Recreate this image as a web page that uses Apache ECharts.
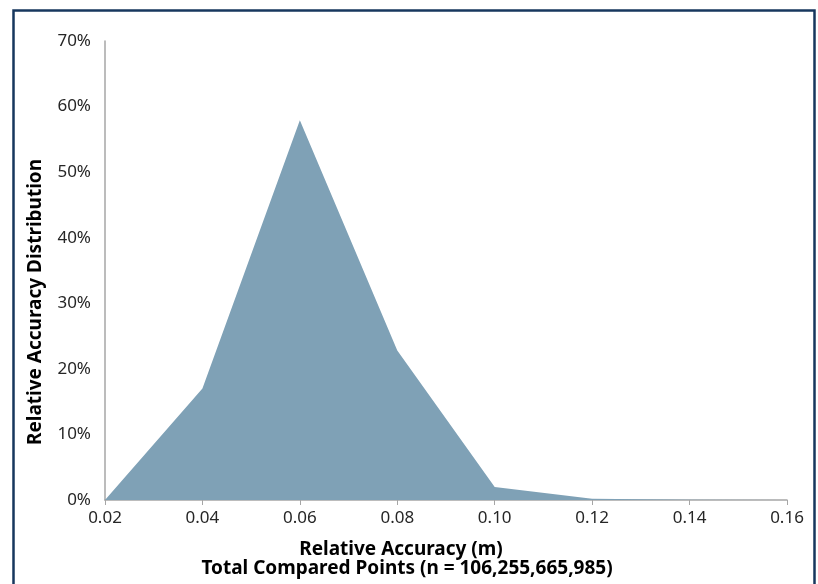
<!DOCTYPE html>
<html>
<head>
<meta charset="utf-8">
<script src="https://cdn.jsdelivr.net/npm/echarts@6/dist/echarts.min.js"></script>
<style>
html,body{margin:0;padding:0;background:#fff;}
#c{width:818px;height:584px;}
</style>
</head>
<body>
<div id="c"></div>
<script>
const categories = ['0.02','0.04','0.06','0.08','0.10','0.12','0.14','0.16'];
const distribution = [0, 17.0, 57.9, 22.8, 2.0, 0.2, 0.05, 0];
const yTicks = [0, 10, 20, 30, 40, 50, 60, 70];
const xTitle = 'Relative Accuracy (m)';
const xSubTitle = 'Total Compared Points (n = 106,255,665,985)';
const yTitle = 'Relative Accuracy Distribution';

const chart = echarts.init(document.getElementById('c'), null, {renderer:'canvas'});
const font = '"Noto Sans", sans-serif';
chart.setOption({
  animation:false,
  grid:{left:105, right:31, top:41, bottom:84, containLabel:false},
  xAxis:{
    type:'category', data:categories, boundaryGap:false,
    axisLine:{lineStyle:{color:'#a6a6a6', width:1.5}},
    axisTick:{show:true, length:5, lineStyle:{color:'#a6a6a6'}},
    axisLabel:{color:'#262626', fontSize:17, fontFamily:font, margin:10}
  },
  yAxis:{
    type:'value', min:yTicks[0], max:yTicks[yTicks.length-1], interval:10,
    axisLine:{show:true, lineStyle:{color:'#a6a6a6', width:1.5}},
    axisTick:{show:false},
    splitLine:{show:false},
    axisLabel:{color:'#262626', fontSize:17, fontFamily:font, margin:14, formatter:v=>v+'%'}
  },
  series:[{
    type:'line', data:distribution, symbol:'none',
    lineStyle:{width:0},
    areaStyle:{color:'#7fa1b6', opacity:1}
  }],
  graphic:[
    {type:'rect', left:11, top:8, shape:{width:801, height:600},
     style:{fill:'none', stroke:'#17375e', lineWidth:2.5}, silent:true},
    {type:'text', x:401, y:550, style:{text:xTitle, font:'bold 19px '+font, fill:'#000', textAlign:'center', textVerticalAlign:'middle'}},
    {type:'text', x:407, y:569, style:{text:xSubTitle, font:'bold 19px '+font, fill:'#000', textAlign:'center', textVerticalAlign:'middle'}},
    {type:'text', x:36, y:302, rotation:Math.PI/2, style:{text:yTitle, font:'bold 19px '+font, fill:'#000', textAlign:'center', textVerticalAlign:'middle'}}
  ]
});
</script>
</body>
</html>
